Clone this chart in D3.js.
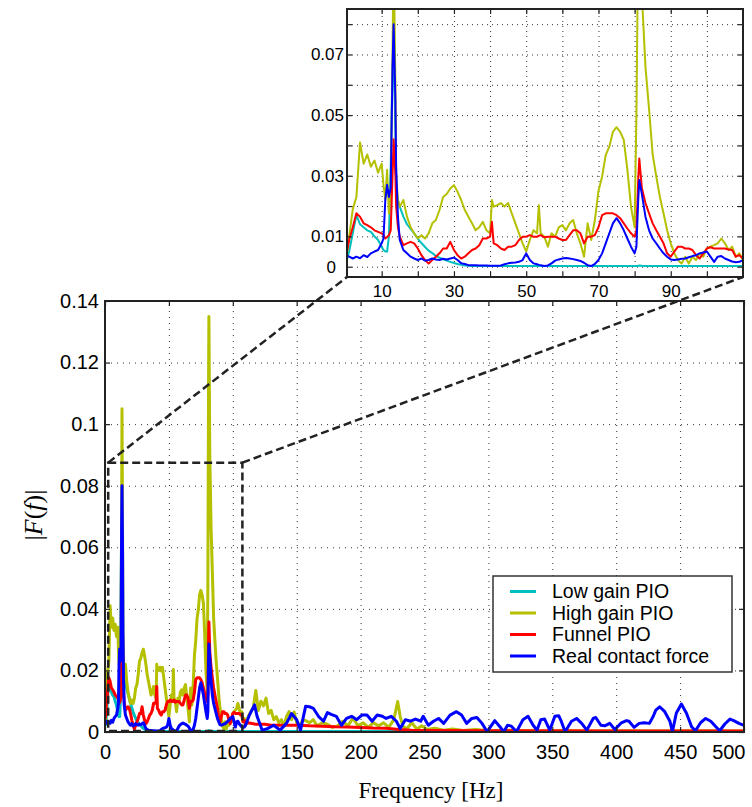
<!DOCTYPE html>
<meta charset="utf-8">
<style>
  body { margin: 0; background: #fff; }
  text { font-family: "Liberation Sans", Arial, sans-serif; }
</style>
<svg width="752" height="807"></svg>
<script src="https://cdnjs.cloudflare.com/ajax/libs/d3/7.8.5/d3.min.js"></script>
<script>
// series names + colours (legend order)
var seriesNames = ["Low gain PIO", "High gain PIO", "Funnel PIO", "Real contact force"];
var seriesColors = ["#00bfbf", "#b4c000", "#ff0000", "#0000ff"];

// tick values
var mainXTicks = [0, 50, 100, 150, 200, 250, 300, 350, 400, 450, 500];
var mainYTicks = [0, 0.02, 0.04, 0.06, 0.08, 0.1, 0.12, 0.14];
var insetXTicks = [10, 20, 30, 40, 50, 60, 70, 80, 90, 100];
var insetXLabels = [10, 30, 50, 70, 90];
var insetYTicks = [0, 0.01, 0.02, 0.03, 0.04, 0.05, 0.06, 0.07, 0.08];
var insetYLabels = [0, 0.01, 0.03, 0.05, 0.07];

// frequency grid for 0-110 Hz (Hz)
var gridLow = [
  0.3, 1, 2, 3, 4, 5, 6, 7, 8, 9,
  10, 10.5, 11, 11.5, 12, 12.5, 13, 13.3, 13.8, 14,
  14.5, 15, 16, 17, 18, 19, 20, 21, 22, 23,
  24, 25, 26, 27, 28, 29, 30, 31, 32, 33,
  34, 35, 36, 37, 38, 39, 40, 40.5, 41, 42,
  43, 44, 45, 46, 47, 48, 49, 50, 51, 52,
  53, 53.5, 54, 55, 56, 57, 58, 59, 60, 61,
  62, 63, 64, 65, 66, 67, 68, 69, 70, 71,
  72, 73, 74, 75, 76, 77, 78, 79, 80, 80.5,
  81, 81.3, 82, 83, 84, 85, 86, 87, 88, 89,
  90, 91, 92, 93, 94, 95, 96, 97, 98, 99,
  100, 101, 102, 103, 104, 105, 106, 107, 108, 109,
  110
];

var lowGainLow = [
  0.002, 0.005, 0.011, 0.017, 0.014, 0.013, 0.012, 0.0115, 0.010, 0.0088,
  0.0066, 0.0055, 0.005, 0.005, 0.010, 0.033, 0.066, 0.070, 0.045, 0.026,
  0.022, 0.0198, 0.0165, 0.014, 0.0125, 0.011, 0.0092, 0.0078, 0.0065, 0.0053,
  0.0045, 0.0035, 0.003, 0.0024, 0.002, 0.0016, 0.0012, 0.0009, 0.0006, 0.0004,
  0.0003, 0.0002, 0.0002, 0.0002, 0.0002, 0.0002, 0.0002, 0.0002, 0.0002, 0.0002,
  0.0002, 0.0002, 0.0002, 0.0002, 0.0002, 0.0002, 0.0002, 0.0002, 0.0002, 0.0002,
  0.0002, 0.0002, 0.0002, 0.0002, 0.0002, 0.0002, 0.0002, 0.0002, 0.0002, 0.0002,
  0.0002, 0.0002, 0.0002, 0.0002, 0.0002, 0.0002, 0.0002, 0.0002, 0.0002, 0.0002,
  0.0002, 0.0002, 0.0002, 0.0002, 0.0002, 0.0002, 0.0002, 0.0002, 0.0002, 0.0002,
  0.0003, 0.0004, 0.0003, 0.0002, 0.0002, 0.0002, 0.0002, 0.0002, 0.0002, 0.0002,
  0.0002, 0.0002, 0.0002, 0.0002, 0.0002, 0.0002, 0.0002, 0.0002, 0.0002, 0.0002,
  0.0002, 0.0002, 0.0002, 0.0002, 0.0002, 0.0002, 0.0002, 0.0002, 0.0002, 0.0002,
  0.0002
];

var highGainLow = [
  0.0035, 0.010, 0.019, 0.023, 0.041, 0.034, 0.037, 0.033, 0.035, 0.031,
  0.034, 0.027, 0.022, 0.032, 0.0176, 0.026, 0.070, 0.105, 0.060, 0.030,
  0.022, 0.0198, 0.022, 0.0165, 0.013, 0.011, 0.0093, 0.0104, 0.0093, 0.011,
  0.0143, 0.0154, 0.0187, 0.023, 0.024, 0.0258, 0.0269, 0.0247, 0.022, 0.0187,
  0.0165, 0.0143, 0.012, 0.013, 0.0148, 0.012, 0.011, 0.022, 0.0198, 0.0203,
  0.021, 0.0198, 0.021, 0.0176, 0.0143, 0.011, 0.0077, 0.005, 0.0088, 0.012,
  0.011, 0.0203, 0.011, 0.0099, 0.0066, 0.011, 0.0099, 0.013, 0.0137, 0.012,
  0.0143, 0.0154, 0.011, 0.0077, 0.0033, 0.0143, 0.0088, 0.0154, 0.025, 0.0297,
  0.0368, 0.0396, 0.0445, 0.046, 0.0445, 0.0418, 0.0319, 0.0198, 0.013, 0.05,
  0.11, 0.135, 0.09, 0.066, 0.052, 0.037, 0.0297, 0.023, 0.0176, 0.012,
  0.0077, 0.0044, 0.0022, 0.001, 0.0033, 0.001, 0.0033, 0.0022, 0.0044, 0.0033,
  0.006, 0.0066, 0.0071, 0.0077, 0.0093, 0.0077, 0.0055, 0.0066, 0.0033, 0.0044,
  0.0022
];

var funnelLow = [
  0.0044, 0.0088, 0.013, 0.0176, 0.0165, 0.0143, 0.0137, 0.013, 0.012, 0.0115,
  0.011, 0.0105, 0.0093, 0.0098, 0.0104, 0.012, 0.030, 0.042, 0.030, 0.0198,
  0.013, 0.0099, 0.0071, 0.0077, 0.0082, 0.0077, 0.006, 0.0038, 0.0022, 0.001,
  0.0022, 0.0033, 0.0044, 0.006, 0.006, 0.0082, 0.0055, 0.0038, 0.0027, 0.0033,
  0.0044, 0.0055, 0.006, 0.0071, 0.0093, 0.0093, 0.0099, 0.0148, 0.0077, 0.0071,
  0.006, 0.0055, 0.0066, 0.0066, 0.0071, 0.0088, 0.0099, 0.0099, 0.0104, 0.0099,
  0.0099, 0.0102, 0.0104, 0.0097, 0.0099, 0.0099, 0.0099, 0.0093, 0.0088, 0.0088,
  0.0104, 0.012, 0.012, 0.011, 0.0077, 0.0099, 0.0099, 0.0104, 0.013, 0.017,
  0.0176, 0.0176, 0.0176, 0.017, 0.016, 0.0143, 0.0126, 0.011, 0.0099, 0.012,
  0.0286, 0.0357, 0.026, 0.021, 0.0176, 0.0143, 0.012, 0.0099, 0.0077, 0.0044,
  0.0033, 0.005, 0.0066, 0.0066, 0.006, 0.006, 0.0055, 0.0038, 0.0027, 0.0044,
  0.006, 0.0064, 0.006, 0.006, 0.006, 0.006, 0.0057, 0.0055, 0.0033, 0.0038,
  0.0027
];

var contactLow = [
  0.0038, 0.0033, 0.0027, 0.0033, 0.0028, 0.0038, 0.0032, 0.0044, 0.005, 0.0055,
  0.0077, 0.0093, 0.022, 0.027, 0.023, 0.026, 0.066, 0.080, 0.055, 0.033,
  0.0165, 0.0088, 0.0055, 0.0044, 0.0033, 0.0027, 0.0022, 0.0027, 0.002, 0.0022,
  0.0027, 0.0024, 0.0022, 0.0026, 0.0024, 0.0027, 0.003, 0.0022, 0.0011, 0.0009,
  0.0005, 0.0005, 0.0005, 0.0004, 0.0004, 0.0004, 0.0003, 0.0003, 0.0003, 0.0003,
  0.0004, 0.0008, 0.0011, 0.0013, 0.0014, 0.0016, 0.0022, 0.0044, 0.0022, 0.0011,
  0.0008, 0.0006, 0.0005, 0.0002, 0.0004, 0.0011, 0.002, 0.0024, 0.0027, 0.0029,
  0.0027, 0.0025, 0.0022, 0.0019, 0.0013, 0.0005, 0.0002, 0.0009, 0.0022, 0.0044,
  0.0077, 0.011, 0.0143, 0.016, 0.0143, 0.012, 0.0093, 0.0066, 0.0044, 0.0066,
  0.022, 0.0286, 0.024, 0.0165, 0.012, 0.0093, 0.0077, 0.006, 0.0044, 0.0033,
  0.0024, 0.0022, 0.0024, 0.0026, 0.0027, 0.0031, 0.0035, 0.0038, 0.0044, 0.0047,
  0.005, 0.0033, 0.0016, 0.0033, 0.0035, 0.0027, 0.0022, 0.0017, 0.0015, 0.0016,
  0.0022
];

// above 110 Hz: [Hz, |F|]
var lowGainHigh = [[112, 0.0002], [200, 0.00015], [300, 0.0001], [500, 0.0001]];

var highGainHigh = [
  [112, 0.005], [114, 0.0065], [116, 0.008], [118, 0.0135], [120, 0.007], [122, 0.010],
  [124, 0.0085], [126, 0.011], [128, 0.006], [130, 0.007], [132, 0.004], [134, 0.005],
  [136, 0.003], [138, 0.004], [140, 0.002], [142, 0.005], [144, 0.0066], [146, 0.004],
  [148, 0.0065], [150, 0.003], [152, 0.002], [155, 0.004], [158, 0.0035], [160, 0.003],
  [163, 0.004], [166, 0.002], [170, 0.003], [174, 0.0025], [178, 0.0015], [182, 0.002],
  [186, 0.0035], [190, 0.002], [194, 0.0045], [198, 0.002], [202, 0.003], [206, 0.0015],
  [210, 0.003], [214, 0.002], [218, 0.003], [222, 0.0015], [226, 0.004], [229, 0.0099],
  [231, 0.005], [233, 0.002], [236, 0.001], [240, 0.003], [244, 0.001], [248, 0.002],
  [252, 0.0008], [258, 0.0012], [265, 0.0006], [272, 0.001], [280, 0.0005], [290, 0.0008],
  [300, 0.0004], [320, 0.0006], [340, 0.0003], [360, 0.0005], [380, 0.0003], [400, 0.0004],
  [430, 0.0003], [460, 0.0004], [500, 0.0003]
];

var funnelHigh = [
  [112, 0.003], [118, 0.0025], [125, 0.0025], [130, 0.0022], [140, 0.0022], [150, 0.0022],
  [160, 0.002], [170, 0.0019], [180, 0.0017], [190, 0.0016], [200, 0.0015], [210, 0.0013],
  [220, 0.0012], [230, 0.0008], [240, 0.0006], [250, 0.0005], [300, 0.0004], [400, 0.0003],
  [500, 0.0003]
];

var contactHigh = [
  [113, 0.0055], [117, 0.0088], [119, 0.0051], [123, 0.0006], [127, 0.0011], [132, 0.0022],
  [137, 0.0006], [142, 0.0028], [146, 0.006], [150, 0.004], [153, 0.0006], [157, 0.0084],
  [160, 0.0082], [163, 0.0077], [167, 0.0051], [171, 0.0035], [174, 0.0063], [177, 0.0057],
  [181, 0.0051], [185, 0.0022], [189, 0.0044], [193, 0.0051], [197, 0.004], [201, 0.0055],
  [205, 0.0055], [209, 0.0035], [213, 0.0055], [217, 0.0051], [220, 0.0044], [224, 0.0051],
  [228, 0.0035], [231, 0.0011], [235, 0.004], [239, 0.0035], [243, 0.0042], [247, 0.0035],
  [249, 0.0051], [253, 0.0022], [257, 0.0035], [261, 0.0044], [265, 0.0028], [270, 0.0055],
  [275, 0.0066], [279, 0.0055], [283, 0.0028], [287, 0.0044], [291, 0.0047], [295, 0.0028],
  [299, 0.0001], [302, 0.0019], [305, 0.0037], [309, 0.0017], [312, 0.0001], [315, 0.0022],
  [318, 0.0019], [322, 0.0001], [327, 0.004], [331, 0.0051], [335, 0.0022], [338, 0.0006],
  [341, 0.004], [344, 0.0042], [348, 0.0006], [352, 0.0051], [355, 0.0053], [357, 0.0035],
  [360, 0.0001], [365, 0.0035], [369, 0.0044], [373, 0.0028], [377, 0.0006], [382, 0.0044],
  [384, 0.0047], [388, 0.0022], [391, 0.002], [395, 0.0028], [399, 0.0008], [404, 0.003],
  [408, 0.0037], [410, 0.0035], [414, 0.0015], [418, 0.0028], [422, 0.003], [426, 0.0028],
  [429, 0.0051], [431, 0.0071], [434, 0.0082], [438, 0.0066], [442, 0.0035], [444, 0.0001],
  [447, 0.0061], [451, 0.0091], [455, 0.0061], [459, 0.0017], [462, 0.0004], [466, 0.003],
  [470, 0.0044], [474, 0.0035], [478, 0.0017], [481, 0.0004], [485, 0.0026], [489, 0.0042],
  [492, 0.0037], [496, 0.0028], [500, 0.0022]
];

// zoomed region shown in the inset
var zoomHz = [2.5, 107.5];
var zoomMag = [0, 0.0875];

function build(lowVals, highPairs) {
  return gridLow.map(function(f, i) { return [f, lowVals[i]]; }).concat(highPairs);
}
var series = [
  build(lowGainLow, lowGainHigh),
  build(highGainLow, highGainHigh),
  build(funnelLow, funnelHigh),
  build(contactLow, contactHigh)
];

var svg = d3.select("svg");

// ---------- main axes ----------
var x = d3.scaleLinear().domain([0, 500]).range([105, 744]);
var y = d3.scaleLinear().domain([0, 0.14]).range([732, 301]);

// ---------- inset axes ----------
var xi = d3.scaleLinear().domain([0.4, 110]).range([347, 743]);
var yi = d3.scaleLinear().domain([-0.0034, 0.085]).range([277, 9]);

var defs = svg.append("defs");
defs.append("clipPath").attr("id", "clipMain").append("rect")
  .attr("x", 105).attr("y", 301).attr("width", 639).attr("height", 431);
defs.append("clipPath").attr("id", "clipInset").append("rect")
  .attr("x", 347).attr("y", 9).attr("width", 396).attr("height", 268);

function fmt(d) { return d === 0 ? "0" : String(+d.toFixed(2)); }

function drawPanel(xs, ys, clipId, xt, xl, yt, yl, lw, fontSize, dash, xPad, yPad) {
  var x0 = xs.range()[0], x1 = xs.range()[1];
  var yb = ys.range()[0], ytop = ys.range()[1];
  var w = x1 - x0, h = yb - ytop;

  svg.append("rect").attr("x", x0).attr("y", ytop).attr("width", w).attr("height", h)
    .attr("fill", "#fff");

  // dotted grid
  var gx = svg.append("g").attr("transform", "translate(0," + yb + ")")
    .call(d3.axisBottom(xs).tickValues(xt.filter(function(v) { return v > xs.domain()[0] && v < xs.domain()[1]; }))
      .tickSize(-h).tickFormat(""));
  var gy = svg.append("g").attr("transform", "translate(" + x0 + ",0)")
    .call(d3.axisLeft(ys).tickValues(yt.filter(function(v) { return v > ys.domain()[0] && v < ys.domain()[1]; }))
      .tickSize(-w).tickFormat(""));
  [gx, gy].forEach(function(g) {
    g.select(".domain").remove();
    g.selectAll("line").attr("stroke", "#333").attr("stroke-width", 1).attr("stroke-dasharray", dash);
  });

  // data lines
  var line = d3.line().x(function(d) { return xs(d[0]); }).y(function(d) { return ys(d[1]); });
  svg.append("g").attr("clip-path", "url(#" + clipId + ")")
    .selectAll("path").data(series).enter().append("path")
    .attr("d", line)
    .attr("fill", "none")
    .attr("stroke", function(d, i) { return seriesColors[i]; })
    .attr("stroke-width", lw)
    .attr("stroke-linejoin", "round");

  // axes with inward ticks
  var ax = svg.append("g").attr("transform", "translate(0," + yb + ")")
    .call(d3.axisBottom(xs).tickValues(xt).tickSize(-5).tickPadding(xPad)
      .tickFormat(function(d) { return xl.indexOf(d) >= 0 ? fmt(d) : ""; }));
  var ay = svg.append("g").attr("transform", "translate(" + x0 + ",0)")
    .call(d3.axisLeft(ys).tickValues(yt).tickSize(-5).tickPadding(yPad)
      .tickFormat(function(d) { return yl.indexOf(d) >= 0 ? fmt(d) : ""; }));
  var at = svg.append("g").attr("transform", "translate(0," + ytop + ")")
    .call(d3.axisTop(xs).tickValues(xt).tickSize(-5).tickFormat(""));
  var ar = svg.append("g").attr("transform", "translate(" + x1 + ",0)")
    .call(d3.axisRight(ys).tickValues(yt).tickSize(-5).tickFormat(""));
  [ax, ay, at, ar].forEach(function(g) {
    g.select(".domain").remove();
    g.selectAll("line").attr("stroke", "#222").attr("stroke-width", 1.2);
    g.selectAll("text").attr("font-size", fontSize).attr("fill", "#000")
      .attr("font-family", "'Liberation Sans', Arial, sans-serif");
  });

  svg.append("rect").attr("x", x0).attr("y", ytop).attr("width", w).attr("height", h)
    .attr("fill", "none").attr("stroke", "#222").attr("stroke-width", 2);
  return { ax: ax, ay: ay };
}

var mainAxes = drawPanel(x, y, "clipMain", mainXTicks, mainXTicks, mainYTicks, mainYTicks,
  3, 20, "1,5", 13, 6);
// last label sits flush with the right edge
mainAxes.ax.selectAll(".tick text").filter(function(d) { return d === 500; })
  .attr("text-anchor", "end").attr("dx", 1);

var insetAxes = drawPanel(xi, yi, "clipInset", insetXTicks, insetXLabels, insetYTicks, insetYLabels,
  2, 17, "1,4", 8, 3);
insetAxes.ay.selectAll(".tick text").filter(function(d) { return d === 0; })
  .attr("dx", -8);

// ---------- zoom box + connectors ----------
var dashed = { stroke: "#222", "stroke-width": 2.5, "stroke-dasharray": "8,4", fill: "none" };
var box = svg.append("rect")
  .attr("x", x(zoomHz[0])).attr("y", y(zoomMag[1]))
  .attr("width", x(zoomHz[1]) - x(zoomHz[0]))
  .attr("height", y(zoomMag[0]) - y(zoomMag[1]) - 1);
var c1 = svg.append("line")
  .attr("x1", x(zoomHz[0])).attr("y1", y(zoomMag[1]))
  .attr("x2", xi.range()[0]).attr("y2", yi.range()[0]);
var c2 = svg.append("line")
  .attr("x1", x(zoomHz[1])).attr("y1", y(zoomMag[1]))
  .attr("x2", xi.range()[1]).attr("y2", yi.range()[0]);
[box, c1, c2].forEach(function(s) {
  for (var k in dashed) s.attr(k, dashed[k]);
});

// ---------- legend ----------
var lg = svg.append("g").attr("transform", "translate(493,576)");
lg.append("rect").attr("width", 239).attr("height", 96)
  .attr("fill", "#fff").attr("stroke", "#333").attr("stroke-width", 1.5);
var rowsY = [15.5, 37, 58.5, 80];
seriesNames.forEach(function(name, i) {
  lg.append("line").attr("x1", 17).attr("x2", 43).attr("y1", rowsY[i]).attr("y2", rowsY[i])
    .attr("stroke", seriesColors[i]).attr("stroke-width", 3);
  lg.append("text").attr("x", 59).attr("y", rowsY[i]).attr("dy", "0.35em")
    .attr("font-size", 19.5).text(name);
});

// ---------- axis titles ----------
svg.append("text").attr("x", 431).attr("y", 798).attr("text-anchor", "middle")
  .style("font-family", "'Liberation Serif', 'DejaVu Serif', serif").attr("font-size", 23)
  .text("Frequency [Hz]");

var yl = svg.append("text").attr("transform", "translate(42,515) rotate(-90)")
  .attr("text-anchor", "middle")
  .style("font-family", "'Liberation Serif', 'DejaVu Serif', serif").attr("font-size", 26);
yl.append("tspan").text("|");
yl.append("tspan").attr("font-style", "italic").text("F");
yl.append("tspan").text("(");
yl.append("tspan").attr("font-style", "italic").text("f");
yl.append("tspan").text(")|");
</script>
